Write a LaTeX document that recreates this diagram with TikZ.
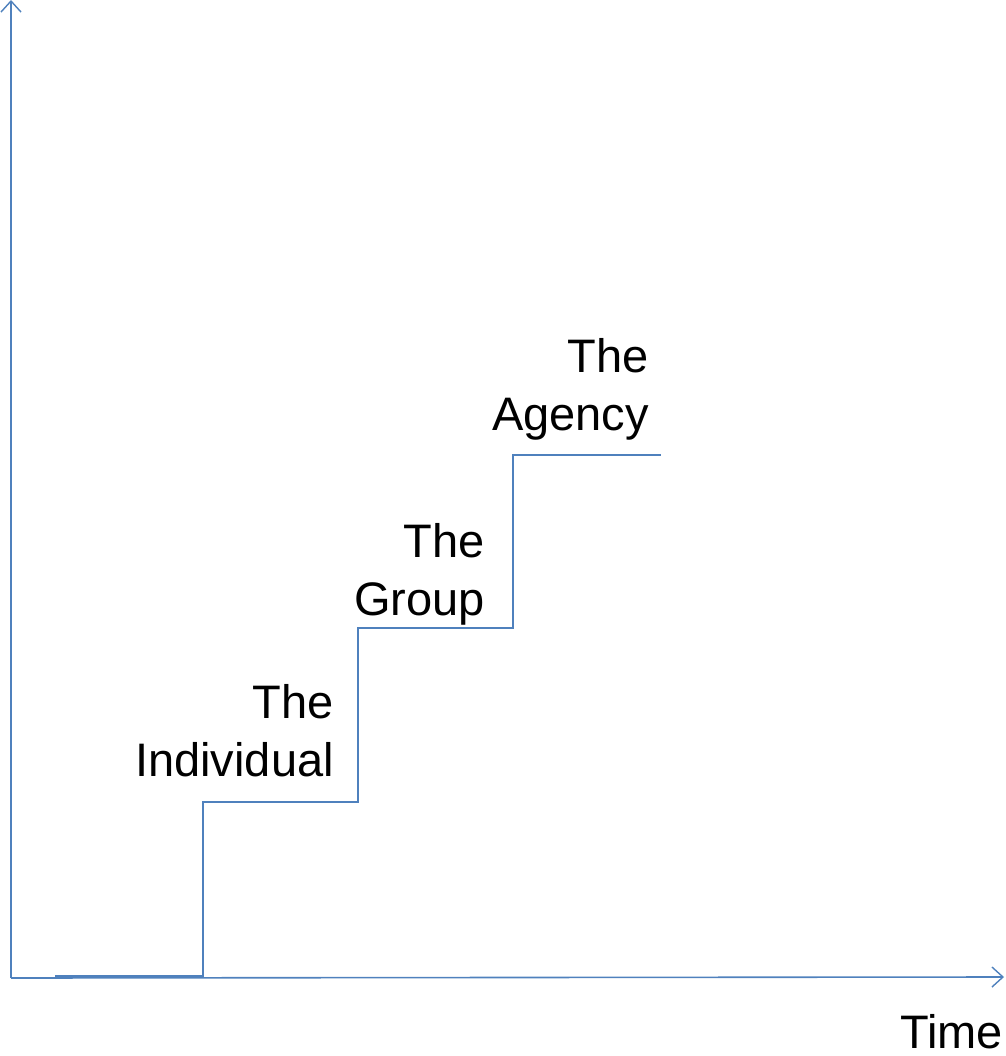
\documentclass[tikz,border=0pt]{standalone}
\usepackage{fontspec}
\setmainfont{Liberation Sans}
\usetikzlibrary{arrows.meta}
\definecolor{stepblue}{RGB}{79,129,189}
\tikzset{
	axis/.style={line width=1.6pt, color=stepblue, -{Straight Barb[length=11pt,width=20pt,line width=1.4pt]}},
	stairs/.style={line width=2pt, color=stepblue},
	stagelabel/.style={inner sep=0pt, align=right, anchor=base east, font=\fontsize{47}{58}\selectfont}
}
\begin{document}
\begin{tikzpicture}[x=1pt, y=-1pt]
			%%%%% START %%%%%
			
			\useasboundingbox (0, 0) rectangle (1005, 1056);
			
			\coordinate (origin) at (11, 978);
			\coordinate (ytop) at (11, 0);
			\coordinate (xend) at (1004, 977);
			
			\draw[axis] (origin) -- (ytop);
			\draw[axis] (origin) -- (xend);
			
			\coordinate (s0) at (55, 976);
			\coordinate (s1) at (203, 976);
			\coordinate (s2) at (203, 802);
			\coordinate (s3) at (358, 802);
			\coordinate (s4) at (358, 628);
			\coordinate (s5) at (513, 628);
			\coordinate (s6) at (513, 455);
			\coordinate (s7) at (661, 455);
			
			\draw[stairs] (s0) -- (s1) -- (s2) -- (s3) -- (s4) -- (s5) -- (s6) -- (s7);
			
			\node[stagelabel] (individual) at (334, 776) {The\\Individual};
			\node[stagelabel] (group) at (485, 615) {The\\Group};
			\node[stagelabel] (agency) at (649, 430) {The\\Agency};
			
			\node[stagelabel] (time) at (1003, 1048) {Time};
			
			%%%%% END %%%%%
		\end{tikzpicture}
\end{document}
